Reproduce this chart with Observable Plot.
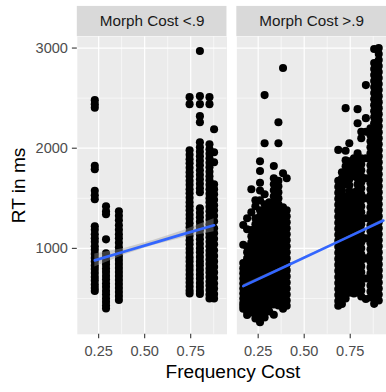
<!DOCTYPE html>
<html><head><meta charset="utf-8">
<script src="https://cdn.jsdelivr.net/npm/d3@7"></script>
<script src="https://cdn.jsdelivr.net/npm/@observablehq/plot@0.6"></script>
<style>
html,body{margin:0;padding:0;background:#fff;overflow:hidden;width:386px;height:392px;}
#chart{width:386px;height:392px;overflow:hidden;}
</style></head><body><div id="chart"></div>
<script>
const panels = ["Morph Cost <.9", "Morph Cost >.9"];
const xTicks = [0.25, 0.5, 0.75];
const xMinor = [0.375, 0.625, 0.875];
const yTicks = [1000, 2000, 3000];
const yMinor = [500, 1500, 2500];
const xLabel = "Frequency Cost";
const yLabel = "RT in ms";

// Panel "Morph Cost <.9": columns of points (x, list of RT values)
const p1X = [0.229, 0.29, 0.36, 0.744, 0.80, 0.852, 0.877];
const p1Y = [
  [2480, 2440, 2405, 1825, 1790, 1575, 1530, 1490, 1220, 1185, 1140, 1100, 1065, 1020, 985, 945, 905, 870, 830, 795, 755, 715, 680, 640, 605, 575],
  [1420, 1370, 1340, 1090, 950, 915, 875, 840, 800, 765, 725, 690, 650, 615, 575, 540, 500, 465, 430, 400],
  [1370, 1325, 1280, 1230, 1185, 1140, 1100, 1055, 1010, 970, 925, 885, 845, 805, 765, 725, 685, 645, 605, 565, 525, 485],
  [2510, 2440, 1980, 1935, 1890, 1850, 1805, 1760, 1720, 1675, 1635, 1590, 1550, 1505, 1460, 1420, 1380, 1335, 1295, 1250, 1210, 1165, 1125, 1080, 1040, 995, 955, 910, 870, 825, 785, 740, 700, 660, 620, 580, 550],
  [2970, 2520, 2440, 2320, 2260, 2060, 2010, 1965, 1920, 1875, 1830, 1780, 1735, 1690, 1645, 1600, 1560, 1400, 1355, 1310, 1265, 1220, 1180, 1135, 1090, 1045, 1000, 960, 915, 870, 830, 785, 740, 700, 655, 615, 575, 545],
  [2510, 2440, 2040, 1990, 1945, 1900, 1855, 1810, 1765, 1720, 1680, 1635, 1590, 1545, 1500, 1460, 1415, 1370, 1325, 1285, 1240, 1195, 1150, 1110, 1065, 1020, 975, 935, 890, 845, 800, 760, 715, 670, 630, 585, 540, 500],
  [2190, 1960, 1860, 1640, 1590, 1540, 1485, 1430, 1380, 1325, 1270, 1200, 1150, 1095, 1040, 980, 925, 870, 815, 760, 705, 650, 600, 545, 500]
];

// Panel "Morph Cost >.9": columns of points
const p2X = [0.169, 0.19, 0.213, 0.235, 0.26, 0.285, 0.31, 0.335, 0.36, 0.385, 0.405,
             0.685, 0.705, 0.725, 0.745, 0.77, 0.79, 0.81, 0.835, 0.86, 0.88, 0.905];
const p2Y = [
  [1233, 1036, 853, 800, 750, 700, 650, 600, 550, 500, 455, 427, 397],
  [1300, 1190, 1017, 960, 900, 840, 780, 720, 660, 600, 540, 480, 420, 370, 335],
  [1590, 1361, 1184, 1120, 1060, 1000, 940, 880, 820, 760, 700, 640, 580, 520, 460, 400, 361],
  [1480, 1420, 1300, 1240, 1180, 1120, 1060, 1000, 940, 880, 820, 760, 700, 640, 580, 520, 460, 400, 340, 300],
  [1870, 1772, 1655, 1577, 1479, 1380, 1320, 1260, 1200, 1140, 1080, 1020, 960, 900, 840, 780, 720, 660, 600, 540, 480, 420, 360, 300, 263],
  [2530, 2050, 1540, 1440, 1380, 1320, 1260, 1200, 1140, 1080, 1020, 960, 900, 840, 780, 720, 660, 600, 540, 480, 420, 360, 310],
  [1460, 1400, 1340, 1270, 1200, 1130, 1060, 990, 920, 850, 780, 710, 640, 570, 500, 430, 370],
  [1822, 1700, 1640, 1580, 1520, 1460, 1400, 1340, 1280, 1220, 1160, 1100, 1040, 980, 920, 860, 800, 740, 680, 620, 560, 500, 440, 338],
  [2260, 2050, 1675, 1620, 1560, 1500, 1440, 1380, 1320, 1260, 1200, 1140, 1080, 1020, 960, 900, 840, 780, 720, 660, 600, 540, 480, 430],
  [2800, 1750, 1410, 1350, 1290, 1230, 1170, 1110, 1050, 990, 930, 870, 810, 750, 690, 630, 570, 510, 450, 397],
  [1700, 1380, 1320, 1260, 1200, 1140, 1080, 1020, 960, 900, 840, 780, 720, 660, 600, 540, 480, 427],
  [1983, 1675, 1615, 1555, 1495, 1435, 1375, 1315, 1255, 1195, 1135, 1075, 1015, 955, 895, 835, 775, 715, 655, 595, 535, 475, 427],
  [1760, 1700, 1640, 1580, 1520, 1460, 1400, 1340, 1280, 1220, 1160, 1100, 1040, 980, 920, 860, 800, 740, 680, 620, 560, 500, 445],
  [2400, 1975, 1880, 1820, 1760, 1700, 1640, 1520, 1460, 1400, 1340, 1280, 1220, 1160, 1100, 1040, 980, 920, 860, 800, 740, 680, 620, 560, 500],
  [2050, 1870, 1810, 1750, 1690, 1630, 1570, 1510, 1450, 1390, 1330, 1270, 1210, 1150, 1090, 1030, 970, 910, 850, 790, 730, 670, 610, 558],
  [1900, 1840, 1780, 1720, 1560, 1500, 1440, 1380, 1320, 1260, 1200, 1140, 1080, 1020, 960, 900, 840, 780, 720, 660, 600, 550],
  [2390, 2250, 1950, 1880, 1820, 1760, 1700, 1640, 1580, 1520, 1460, 1400, 1340, 1280, 1220, 1160, 1100, 1040, 980, 920, 860, 800, 740, 680, 620, 560],
  [2165, 2100, 1900, 1840, 1780, 1720, 1660, 1600, 1540, 1480, 1420, 1360, 1300, 1240, 1180, 1120, 1060, 1000, 940, 880, 820, 760, 700, 640, 580, 520],
  [2630, 2300, 2165, 1900, 1700, 1500, 1300, 1100, 900, 700, 495],
  [2200, 2130, 2070, 2010, 1950, 1890, 1830, 1770, 1710, 1650, 1590, 1530, 1470, 1410, 1350, 1290, 1230, 1170, 1110, 1050, 990, 930, 870, 810, 750, 690, 630, 570, 510],
  [2990, 2850, 2790, 2730, 2670, 2610, 2550, 2490, 2430, 2370, 2310, 2250, 2190, 2130, 2070, 2010, 1950, 1890, 1830, 1770, 1710, 1650, 1590, 1530, 1470, 1410, 1350, 1290, 1230, 1170, 1110, 1050, 990, 930, 870, 810, 750, 690, 630, 570, 510, 446],
  [3000, 2940, 2880, 2820, 2760, 2700, 2640, 2580, 2520, 2460, 2400, 2340, 2280, 2220, 2160, 2100, 2040, 1980, 1920, 1860, 1800, 1740, 1680, 1620, 1560, 1500, 1440, 1380, 1320, 1260, 1200, 1140, 1080, 1020, 960, 900, 840, 780, 720, 660, 600, 540, 480]
];

// Linear fit + confidence band
const fit1X = [0.229, 0.40, 0.55, 0.70, 0.877];
const fit1Y = [880, 973, 1055, 1137, 1230];
const fit1Lo = [815, 942, 1030, 1102, 1165];
const fit1Hi = [945, 1004, 1080, 1172, 1295];
const fit2X = [0.169, 0.40, 0.70, 0.93];
const fit2Y = [623, 821, 1080, 1278];
const fit2Lo = [608, 813, 1073, 1265];
const fit2Hi = [638, 829, 1087, 1291];

// build tables
const points = [];
p1X.forEach((x, i) => p1Y[i].forEach(y => points.push({panel: panels[0], x, y})));
p2X.forEach((x, i) => p2Y[i].forEach(y => points.push({panel: panels[1], x, y})));
const fits = [];
fit1X.forEach((x, i) => fits.push({panel: panels[0], x, y: fit1Y[i], lo: fit1Lo[i], hi: fit1Hi[i]}));
fit2X.forEach((x, i) => fits.push({panel: panels[1], x, y: fit2Y[i], lo: fit2Lo[i], hi: fit2Hi[i]}));

const W = 392, H = 392, mT = 36.7, mB = 53, mL = 77.3;
const xDom = [0.134, 0.947];
const yDom = [142, 3114];
const perPx = (yDom[1] - yDom[0]) / (H - mT - mB);
const stripTop = yDom[1] + (mT - 6) * perPx;
const font = "Liberation Sans, Arial, Helvetica, sans-serif";

const chart = Plot.plot({
  width: W, height: H,
  marginTop: mT, marginBottom: mB, marginLeft: mL, marginRight: 0,
  style: {fontFamily: font, fontSize: "14.8px", background: "#fff"},
  fx: {domain: panels, axis: null, paddingInner: 0.062, paddingOuter: 0, label: null},
  x: {domain: xDom, label: null},
  y: {domain: yDom, label: null},
  marks: [
    Plot.frame({fill: "#ebebeb", stroke: null}),
    Plot.rect(panels, {fx: d => d, x1: xDom[0], x2: xDom[1], y1: yDom[1], y2: stripTop, fill: "#d9d9d9"}),
    Plot.text(panels, {fx: d => d, text: d => d, frameAnchor: "top", textAnchor: "middle", lineAnchor: "middle", dy: -15.4, fontSize: 15.5, fill: "#1a1a1a"}),
    Plot.gridX({ticks: xMinor, stroke: "#fff", strokeOpacity: 1, strokeWidth: 0.6}),
    Plot.gridY({ticks: yMinor, stroke: "#fff", strokeOpacity: 1, strokeWidth: 0.6}),
    Plot.gridX({ticks: xTicks, stroke: "#fff", strokeOpacity: 1, strokeWidth: 1.2}),
    Plot.gridY({ticks: yTicks, stroke: "#fff", strokeOpacity: 1, strokeWidth: 1.2}),
    Plot.dot(points, {fx: "panel", x: "x", y: "y", r: 4.1, fill: "#000"}),
    Plot.areaY(fits, {fx: "panel", x: "x", y1: "lo", y2: "hi", fill: "#999999", fillOpacity: 0.4}),
    Plot.line(fits, {fx: "panel", x: "x", y: "y", stroke: "#3366FF", strokeWidth: 2.7}),
    Plot.axisX({ticks: xTicks, tickFormat: d => d.toFixed(2), tickSize: 4.5, tickPadding: 7, fontSize: 14.8, stroke: "#333", fill: "#4d4d4d", strokeWidth: 1.1, label: null}),
    Plot.axisY({ticks: yTicks, tickFormat: d3.format("d"), tickSize: 5, tickPadding: 4.5, fontSize: 14.8, stroke: "#333", fill: "#4d4d4d", strokeWidth: 1.1, label: null}),
    Plot.text([panels[0]], {fx: d => d, text: () => xLabel, frameAnchor: "bottom-right", textAnchor: "middle", lineAnchor: "middle", dx: 6, dy: 38.5, fontSize: 19.4, fill: "#000"}),
    Plot.text([panels[0]], {fx: d => d, text: () => yLabel, frameAnchor: "left", textAnchor: "middle", lineAnchor: "middle", rotate: -90, dx: -59.8, fontSize: 19.4, fill: "#000"})
  ]
});
document.getElementById("chart").appendChild(chart);
</script></body></html>
